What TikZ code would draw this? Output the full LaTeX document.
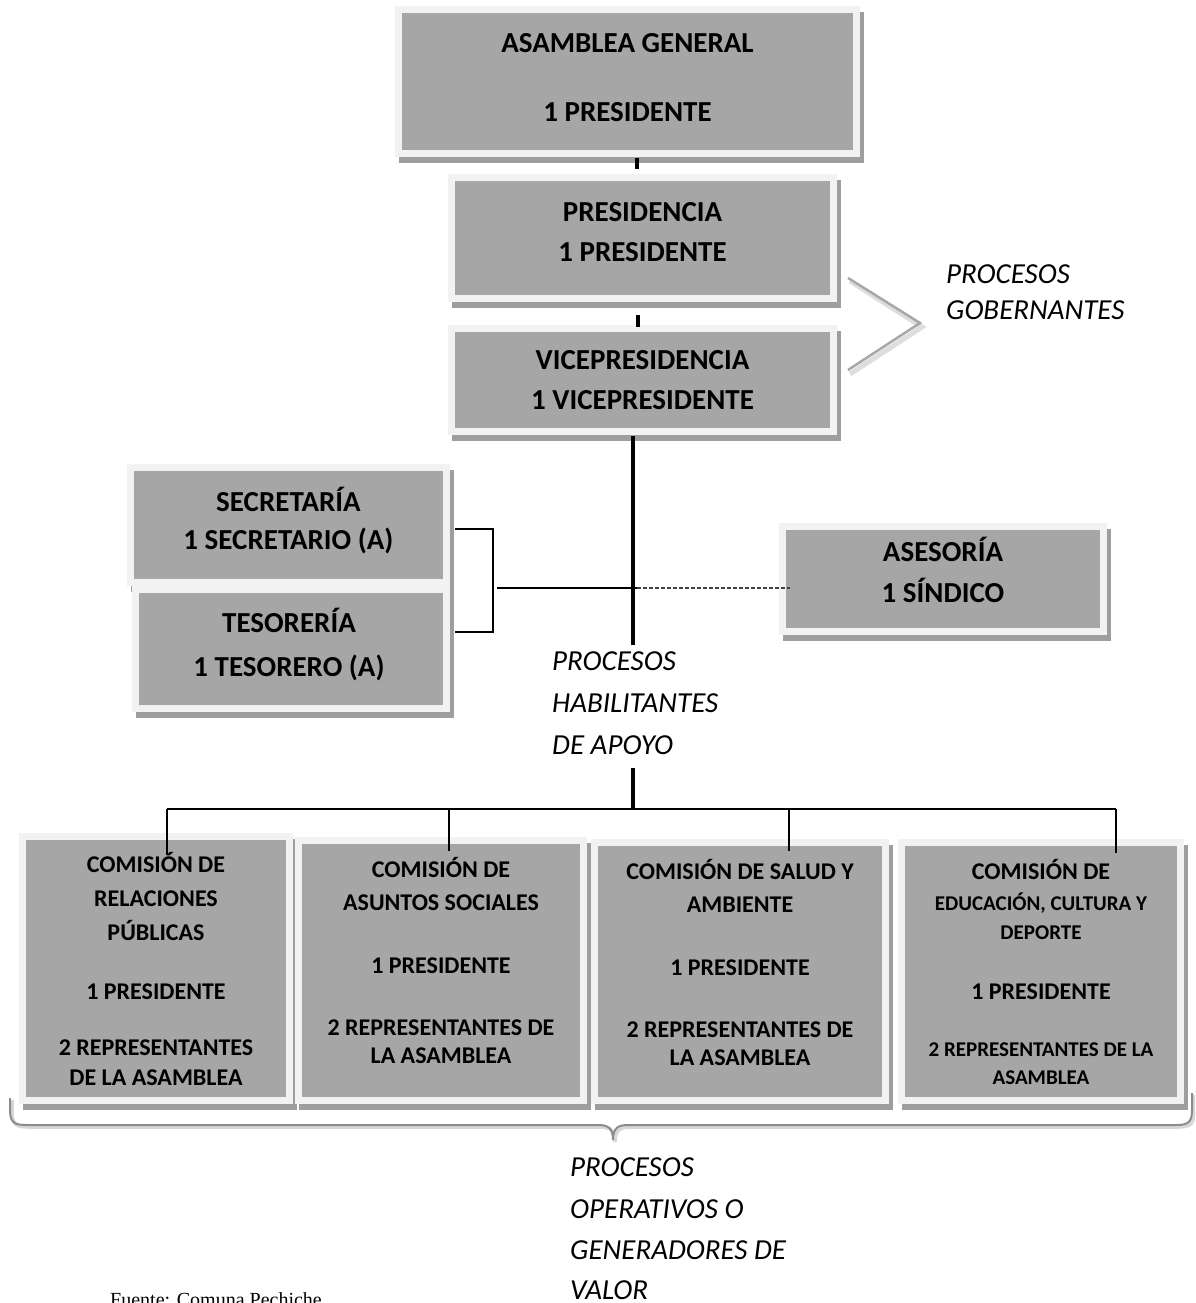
\documentclass[tikz,border=0pt]{standalone}
\usepackage{fontspec}
\setmainfont{Carlito}
\newfontfamily\timesfont{Liberation Serif}
\usetikzlibrary{fit}

\definecolor{boxgray}{RGB}{166,166,166}
\definecolor{framegray}{RGB}{242,242,242}
\definecolor{shadegray}{RGB}{158,158,158}
\definecolor{chevgray}{RGB}{168,168,168}
\definecolor{chevshade}{RGB}{222,222,222}
\definecolor{bracegray}{RGB}{140,140,140}
\definecolor{braceshade}{RGB}{215,215,215}

% box with light frame and drop shadow; #1 name, inner corners (#2,#3) (#4,#5)
\newcommand\orgbox[5]{%
  \fill[shadegray] (#2-3,#3-1) rectangle (#4+11,#5+13);
  \fill[framegray] (#2-7,#3-7) rectangle (#4+7,#5+7);
  \node[fit={(#2,#3)(#4,#5)}, inner sep=0pt, fill=boxgray] (#1) {};
}

\tikzset{
  biglbl/.style={font=\fontsize{29}{29}\selectfont\bfseries, anchor=base, inner sep=0pt},
  comlbl/.style={font=\fontsize{24}{24}\selectfont\bfseries, anchor=base, inner sep=0pt},
  smalllbl/.style={font=\fontsize{21}{21}\selectfont\bfseries, anchor=base, inner sep=0pt},
  proclbl/.style={font=\fontsize{29}{29}\selectfont\itshape, anchor=base west, inner sep=0pt},
  trunk/.style={draw=black, line width=4pt},
  thinline/.style={draw=black, line width=1.3pt},
  dashline/.style={draw=black!75, line width=1.2pt, dash pattern=on 4pt off 2pt},
}

\begin{document}
\begin{tikzpicture}[x=1pt,y=-1pt]
\useasboundingbox (0,0) rectangle (1195,1303);
\clip (0,0) rectangle (1195,1303);
\fill[white] (0,0) rectangle (1195,1303);

% ---- governing boxes
\orgbox{asamblea}{402}{13}{853}{150}
\node[biglbl] (asamblea1) at (627.5,43+9.2) {ASAMBLEA GENERAL};
\node[biglbl] (asamblea2) at (627.5,112+9.2) {1 PRESIDENTE};

\orgbox{presidencia}{455}{181}{830}{295}
\node[biglbl] (presid1) at (642.5,212+9.2) {PRESIDENCIA};
\node[biglbl] (presid2) at (642.5,252+9.2) {1 PRESIDENTE};

\orgbox{vice}{455}{332}{830}{428}
\node[biglbl] (vice1) at (642.5,360+9.2) {VICEPRESIDENCIA};
\node[biglbl] (vice2) at (642.5,400+9.2) {1 VICEPRESIDENTE};

% ---- support boxes
\orgbox{secretaria}{134}{471}{443}{579}
\node[biglbl] (secre1) at (288.5,502+9.2) {SECRETARÍA};
\node[biglbl] (secre2) at (288.5,540+9.2) {1 SECRETARIO (A)};

\orgbox{tesoreria}{139}{593}{443}{705}
\node[biglbl] (teso1) at (289,623+9.2) {TESORERÍA};
\node[biglbl] (teso2) at (289,667+9.2) {1 TESORERO (A)};

\orgbox{asesoria}{786}{530}{1100}{628}
\node[biglbl] (ases1) at (943,552+9.2) {ASESORÍA};
\node[biglbl] (ases2) at (943,593+9.2) {1 SÍNDICO};

% ---- commissions
\orgbox{com1}{26}{840}{286}{1097}
\node[comlbl] (c1a) at (156,865+7.6) {COMISIÓN DE};
\node[comlbl] (c1b) at (156,899+7.6) {RELACIONES};
\node[comlbl] (c1c) at (156,933+7.6) {PÚBLICAS};
\node[comlbl] (c1d) at (156,992+7.6) {1 PRESIDENTE};
\node[comlbl] (c1e) at (156,1048+7.6) {2 REPRESENTANTES};
\node[comlbl] (c1f) at (156,1078+7.6) {DE LA ASAMBLEA};

\orgbox{com2}{302}{844}{580}{1097}
\node[comlbl] (c2a) at (441,870+7.6) {COMISIÓN DE};
\node[comlbl] (c2b) at (441,903+7.6) {ASUNTOS SOCIALES};
\node[comlbl] (c2c) at (441,966+7.6) {1 PRESIDENTE};
\node[comlbl] (c2d) at (441,1028+7.6) {2 REPRESENTANTES DE};
\node[comlbl] (c2e) at (441,1056+7.6) {LA ASAMBLEA};

\orgbox{com3}{598}{846}{882}{1097}
\node[comlbl] (c3a) at (740,872+7.6) {COMISIÓN DE SALUD Y};
\node[comlbl] (c3b) at (740,905+7.6) {AMBIENTE};
\node[comlbl] (c3c) at (740,968+7.6) {1 PRESIDENTE};
\node[comlbl] (c3d) at (740,1030+7.6) {2 REPRESENTANTES DE};
\node[comlbl] (c3e) at (740,1058+7.6) {LA ASAMBLEA};

\orgbox{com4}{905}{846}{1177}{1097}
\node[comlbl] (c4a) at (1041,872+7.6) {COMISIÓN DE};
\node[smalllbl] (c4b) at (1041,904+6.6) {EDUCACIÓN, CULTURA Y};
\node[smalllbl] (c4c) at (1041,933+6.6) {DEPORTE};
\node[comlbl] (c4d) at (1041,992+7.6) {1 PRESIDENTE};
\node[smalllbl] (c4e) at (1041,1050+6.6) {2 REPRESENTANTES DE LA};
\node[smalllbl] (c4f) at (1041,1078+6.6) {ASAMBLEA};

% ---- connector points
\coordinate (s1top) at (637,158);
\coordinate (s1bot) at (637,169);
\coordinate (s2top) at (638,315);
\coordinate (s2bot) at (638,327);
\coordinate (trunkA) at (633,436);
\coordinate (trunkB) at (633,645);
\coordinate (trunkC) at (633,768);
\coordinate (bus1) at (167,809);
\coordinate (bus2) at (449,809);
\coordinate (bus3) at (789,809);
\coordinate (bus4) at (1116,809);
\coordinate (bus0) at (633,809);
\coordinate (brTop) at (455,529);
\coordinate (brTopR) at (493,529);
\coordinate (brBotR) at (493,632);
\coordinate (brBot) at (455,632);
\coordinate (brMid) at (497,588);
\coordinate (cross) at (637,588);
\coordinate (asesIn) at (790,588);

% ---- connectors
\draw[trunk] (s1top) -- (s1bot);
\draw[trunk] (s2top) -- (s2bot);
\draw[trunk] (trunkA) -- (trunkB);
\draw[trunk] (trunkC) -- (bus0);
\draw[thinline] (bus1) -- (bus4);
\draw[thinline] (bus1) -- ([yshift=-15pt]bus1 |- com1.north);
\draw[thinline] (bus2) -- ([yshift=-7pt]bus2 |- com2.north);
\draw[thinline] (bus3) -- ([yshift=-5pt]bus3 |- com3.north);
\draw[thinline] (bus4) -- ([yshift=-7pt]bus4 |- com4.north);
\draw[thinline] (brTop) -- (brTopR) -- (brBotR) -- (brBot);
\draw[thinline] (brMid) -- (cross);
\draw[dashline] (cross) -- (asesIn);

% ---- chevron for governing processes
\draw[chevshade, line width=5pt, line join=miter] (850,281) -- (922,327) -- (850,374);
\draw[chevgray, line width=2.5pt, line join=miter] (848,278) -- (920,323) -- (848,370);

% ---- brace under the commissions
\draw[braceshade, line width=3.5pt]
  (12,1100) -- (12,1112) .. controls (12,1124) and (16,1127) .. (28,1127)
  -- (600,1127) .. controls (610,1127) and (615,1130) .. (615,1142)
  .. controls (615,1130) and (620,1127) .. (630,1127)
  -- (1179,1127) .. controls (1191,1127) and (1194,1123) .. (1194,1112) -- (1194,1095);
\draw[bracegray, line width=2pt]
  (10,1098) -- (10,1110) .. controls (10,1122) and (14,1125) .. (26,1125)
  -- (598,1125) .. controls (608,1125) and (613,1128) .. (613,1140)
  .. controls (613,1128) and (618,1125) .. (628,1125)
  -- (1177,1125) .. controls (1189,1125) and (1192,1121) .. (1192,1110) -- (1192,1093);

% ---- process labels
\node[proclbl] (gob1) at (946,274+9.2) {PROCESOS};
\node[proclbl] (gob2) at (946,310+9.2) {GOBERNANTES};
\node[proclbl] (hab1) at (552,661+9.2) {PROCESOS};
\node[proclbl] (hab2) at (552,703+9.2) {HABILITANTES};
\node[proclbl] (hab3) at (552,745+9.2) {DE APOYO};
\node[proclbl] (op1) at (570,1167+9.2) {PROCESOS};
\node[proclbl] (op2) at (570,1209+9.2) {OPERATIVOS O};
\node[proclbl] (op3) at (570,1250+9.2) {GENERADORES DE};
\node[proclbl] (op4) at (570,1290+9.2) {VALOR};

% ---- source note
\node[font=\timesfont\fontsize{20}{20}\selectfont, anchor=base west, inner sep=0pt] (fuente) at (110,1306) {Fuente: Comuna Pechiche};
\end{tikzpicture}
\end{document}
